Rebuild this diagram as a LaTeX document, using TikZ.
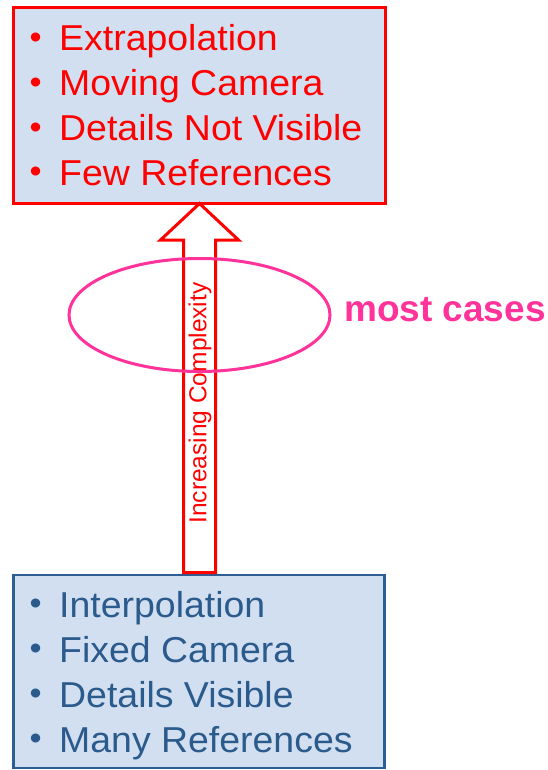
\documentclass[tikz,border=0pt]{standalone}
\usepackage{fontspec}
\setmainfont{Liberation Sans}
\newfontfamily\itemfont[FakeStretch=1.04]{Liberation Sans}
\usepackage{graphicx}
\definecolor{boxfill}{HTML}{D2DFF0}
\definecolor{boxblue}{HTML}{2E5D94}
\definecolor{txtblue}{HTML}{2B5A8C}
\definecolor{hotred}{HTML}{FF0000}
\definecolor{hotpink}{HTML}{FF3399}
\newcommand{\mybul}{\makebox[31pt][l]{\hspace{1.5pt}\raisebox{2.3pt}{\scalebox{0.92}{•}}}}
\begin{document}
\begin{tikzpicture}[x=1pt,y=-1pt,
  itemtext/.style={anchor=base west,inner sep=0pt,font=\itemfont\fontsize{36}{44}\selectfont},
  redbox/.style={draw=hotred,fill=boxfill,line width=3pt},
  bluebox/.style={draw=boxblue,fill=boxfill,line width=2.5pt},
  bigarrow/.style={draw=hotred,fill=white,line width=3pt,line join=miter},
  oval/.style={draw=hotpink,line width=3pt}]
\useasboundingbox (0,0) rectangle (548,770);
% top box
\path[redbox] (13.5,8) rectangle (385,203.5);
\node[coordinate] (topbox) at (199.5,203.5) {};
\foreach \t [count=\i] in {Extrapolation,Moving Camera,Details Not Visible,Few References}{
  \node[itemtext,text=hotred] (top\i) at (28,{51+44.7*(\i-1)}) {\mybul\t};
}
% bottom box
\path[bluebox] (13.5,575) rectangle (384.5,768);
\node[coordinate] (botbox) at (199.5,572.5) {};
\foreach \t [count=\i] in {Interpolation,Fixed Camera,Details Visible,Many References}{
  \node[itemtext,text=txtblue] (bot\i) at (28,{617+45*(\i-1)}) {\mybul\t};
}
% arrow
\draw[bigarrow] ([xshift=-16pt]botbox) -- (183.5,240) -- (160.5,240) -- (topbox.center)
  -- (238.5,240) -- (215.5,240) -- ([xshift=16pt]botbox) -- cycle;
\node[rotate=90,text=hotred,inner sep=0pt,font=\fontsize{24.5}{28}\selectfont] (lbl) at (200,403) {Increasing Complexity};
% ellipse
\draw[oval] (199.5,315) ellipse [x radius=130.5pt,y radius=56.5pt];
\node[coordinate] (ov) at (199.5,315) {};
\node[anchor=base west,inner sep=0pt,text=hotpink,font=\bfseries\fontsize{37}{40}\selectfont] (most) at (344,321) {most cases};
\end{tikzpicture}
\end{document}
